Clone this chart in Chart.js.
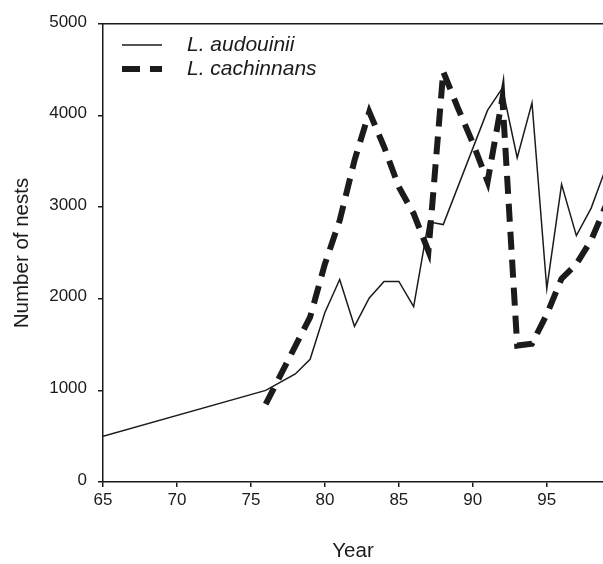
<!DOCTYPE html>
<html>
<head>
<meta charset="utf-8">
<script src="https://cdn.jsdelivr.net/npm/chart.js@4.4.0/dist/chart.umd.min.js"></script>
<style>
    html, body { margin: 0; padding: 0; background: #fff; }
    #wrap { width: 603px; height: 564px; }
</style>
</head>
<body>
<div id="wrap"><canvas id="nests-chart" width="603" height="564"></canvas></div>
<script>
// values (year = 19xx)
var audouiniiYears = [65, 76, 78, 79, 80, 81, 82, 83, 84, 85, 86, 87, 88, 91, 92, 93, 94, 95, 96, 97, 98, 99];
var audouiniiNests = [500, 1000, 1180, 1340, 1850, 2210, 1700, 2010, 2190, 2190, 1915, 2840, 2810, 4060, 4300, 3540, 4140, 2110, 3250, 2690, 2990, 3430];
var cachinnansYears = [76, 79, 80, 81, 82, 83, 84, 85, 86, 87, 88, 89, 90, 91, 92, 93, 94, 95, 96, 97, 98, 99];
var cachinnansNests = [850, 1800, 2380, 2855, 3510, 4040, 3660, 3220, 2930, 2520, 4480, 4080, 3700, 3280, 4190, 1490, 1510, 1830, 2220, 2380, 2640, 3020];
var yearTicks = [65, 70, 75, 80, 85, 90, 95];
var nestTicks = [0, 1000, 2000, 3000, 4000, 5000];
var seriesLabels = ["L. audouinii", "L. cachinnans"];

var ink = "#1b1b1b";
var fontFamily = '"Liberation Sans", Arial, Helvetica, sans-serif';

var toPoints = function (years, values) {
    return years.map(function (year, i) {
        return { x: year, y: values[i] };
    });
};

// legend drawn inside the plot, top-left, like the original figure
var insetLegend = {
    id: "insetLegend",
    afterDraw: function (chart) {
        var ctx = chart.ctx;
        var area = chart.chartArea;
        var x0 = area.left + 19, x1 = area.left + 59, textX = area.left + 84;
        var rows = [area.top + 21, area.top + 45];
        chart.data.datasets.forEach(function (ds, i) {
            ctx.save();
            ctx.strokeStyle = ds.borderColor;
            ctx.lineWidth = ds.borderWidth;
            ctx.lineCap = "butt";
            ctx.setLineDash(ds.borderDash || []);
            ctx.beginPath();
            ctx.moveTo(x0, rows[i]);
            ctx.lineTo(x1, rows[i]);
            ctx.stroke();
            ctx.setLineDash([]);
            ctx.fillStyle = ink;
            ctx.font = "italic 21px " + fontFamily;
            ctx.textBaseline = "middle";
            ctx.fillText(ds.label, textX, rows[i]);
            ctx.restore();
        });
    }
};

var fixedTicks = function (list) {
    return function (scale) {
        scale.ticks = list.map(function (v) { return { value: v }; });
    };
};

var plainNumber = function (value) {
    return String(value);
};

var context = document.getElementById("nests-chart");

var nestsChart = new Chart(context, {
    type: "line",
    data: {
        datasets: [
            {
                label: seriesLabels[0],
                data: toPoints(audouiniiYears, audouiniiNests),
                borderColor: ink,
                borderWidth: 1.5,
                pointRadius: 0,
                tension: 0,
                fill: false
            },
            {
                label: seriesLabels[1],
                data: toPoints(cachinnansYears, cachinnansNests),
                borderColor: ink,
                borderWidth: 6,
                borderDash: [18, 10],
                borderJoinStyle: "miter",
                borderCapStyle: "butt",
                pointRadius: 0,
                tension: 0,
                fill: false
            }
        ]
    },
    options: {
        responsive: false,
        animation: false,
        devicePixelRatio: 1,
        layout: { padding: { top: 24, right: 0, bottom: 0, left: 0 } },
        plugins: {
            legend: { display: false },
            tooltip: { enabled: false }
        },
        scales: {
            x: {
                type: "linear",
                position: "bottom",
                min: 65,
                max: 98.8,
                afterBuildTicks: fixedTicks(yearTicks),
                afterFit: function (scale) { scale.height = 82; },
                border: { display: true, color: ink, width: 1.5 },
                grid: { display: true, drawOnChartArea: false, drawTicks: true, tickLength: 5, color: ink, lineWidth: 1.5 },
                ticks: {
                    color: ink,
                    padding: 3,
                    maxRotation: 0,
                    callback: plainNumber,
                    font: { family: fontFamily, size: 17 }
                },
                title: {
                    display: true,
                    text: "Year",
                    color: ink,
                    padding: { top: 0, bottom: 0 },
                    font: { family: fontFamily, size: 20.5 }
                }
            },
            xTop: {
                type: "linear",
                position: "top",
                min: 65,
                max: 98.8,
                afterFit: function (scale) { scale.height = 0; },
                border: { display: true, color: ink, width: 1.5 },
                grid: { display: false },
                ticks: { display: false }
            },
            y: {
                min: 0,
                max: 5000,
                afterBuildTicks: fixedTicks(nestTicks),
                afterFit: function (scale) { scale.width = 103; },
                border: { display: true, color: ink, width: 1.5 },
                grid: { display: true, drawOnChartArea: false, drawTicks: true, tickLength: 5, color: ink, lineWidth: 1.5 },
                ticks: {
                    color: ink,
                    padding: 11,
                    labelOffset: -2,
                    callback: plainNumber,
                    font: { family: fontFamily, size: 17 }
                },
                title: {
                    display: true,
                    text: "Number of nests",
                    color: ink,
                    padding: { top: 10, bottom: 0 },
                    font: { family: fontFamily, size: 20.5 }
                }
            }
        }
    },
    plugins: [insetLegend]
});
</script>
</body>
</html>
